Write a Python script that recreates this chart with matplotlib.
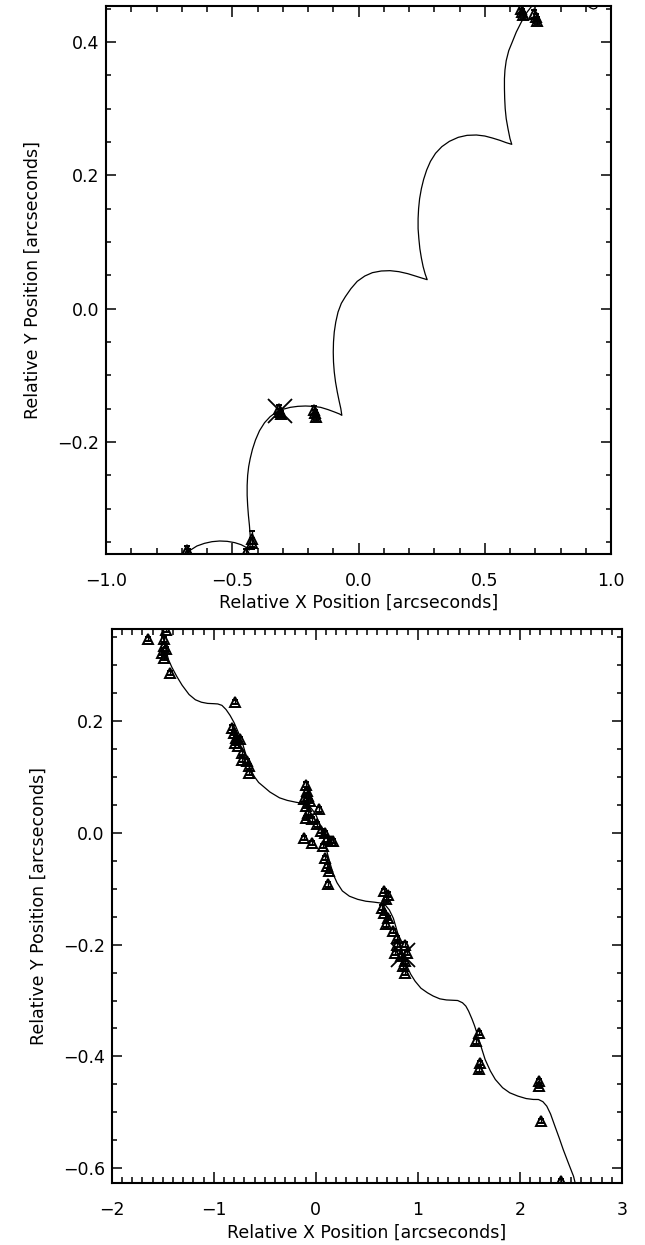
import matplotlib
matplotlib.use("Agg")
import matplotlib.pyplot as plt
from matplotlib.ticker import MultipleLocator

# ---------------- data: top panel ----------------
top_curve_x = [-0.74, -0.70, -0.685, -0.665, -0.64, -0.61, -0.58, -0.55, -0.52, -0.49,
               -0.465, -0.445, -0.432,
               -0.428, -0.429, -0.432, -0.436, -0.439, -0.441, -0.441, -0.439, -0.435,
               -0.429, -0.420, -0.408, -0.392, -0.372, -0.350, -0.325, -0.300, -0.270,
               -0.240, -0.210, -0.180, -0.150, -0.120, -0.095, -0.075, -0.066,
               -0.070, -0.077, -0.084, -0.091, -0.096, -0.099, -0.100, -0.099, -0.096,
               -0.090, -0.081, -0.068, -0.052, -0.030, -0.005, 0.025, 0.055, 0.090,
               0.125, 0.160, 0.195, 0.225, 0.250, 0.272,
               0.264, 0.256, 0.249, 0.243, 0.239, 0.236, 0.236, 0.238, 0.242, 0.249,
               0.258, 0.270, 0.285, 0.305, 0.330, 0.360, 0.395, 0.430, 0.467, 0.500,
               0.530, 0.560, 0.585, 0.607,
               0.600, 0.592, 0.585, 0.581, 0.579, 0.578, 0.578, 0.580, 0.585, 0.595,
               0.609, 0.625, 0.645, 0.668, 0.695, 0.73, 0.77, 0.81, 0.85, 0.88, 0.905,
               0.920, 0.930, 0.940, 0.950, 0.965]
top_curve_y = [-0.390, -0.374, -0.368, -0.362, -0.356, -0.352, -0.3495, -0.3485, -0.349, -0.351,
               -0.354, -0.358, -0.362,
               -0.352, -0.340, -0.325, -0.310, -0.295, -0.280, -0.265, -0.250, -0.237,
               -0.225, -0.211, -0.197, -0.183, -0.171, -0.162, -0.155, -0.151, -0.148,
               -0.1465, -0.146, -0.1465, -0.148, -0.1515, -0.155, -0.158, -0.160,
               -0.150, -0.138, -0.125, -0.110, -0.095, -0.080, -0.065, -0.050, -0.035,
               -0.020, -0.005, 0.008, 0.018, 0.030, 0.041, 0.049, 0.054, 0.0565,
               0.057, 0.0555, 0.0525, 0.049, 0.046, 0.0435,
               0.052, 0.063, 0.076, 0.090, 0.105, 0.120, 0.135, 0.150, 0.165, 0.180,
               0.194, 0.208, 0.221, 0.233, 0.243, 0.251, 0.257, 0.260, 0.2605, 0.259,
               0.256, 0.2525, 0.249, 0.2465,
               0.255, 0.270, 0.285, 0.300, 0.315, 0.330, 0.345, 0.358, 0.372, 0.387,
               0.400, 0.415, 0.430, 0.445, 0.458, 0.468, 0.474, 0.474, 0.469, 0.462, 0.455,
               0.451, 0.4495, 0.4505, 0.455, 0.465]

top_pts_x = [-0.680, -0.676, -0.444, -0.421, -0.423, -0.316, -0.310, -0.306,
             -0.175, -0.172, -0.169, 0.643, 0.647, 0.650, 0.697, 0.703, 0.706]
top_pts_y = [-0.362, -0.367, -0.366, -0.345, -0.352, -0.150, -0.155, -0.158,
             -0.152, -0.157, -0.162, 0.450, 0.445, 0.440, 0.442, 0.437, 0.432]
top_pts_err = [0.006, 0.006, 0.005, 0.012, 0.008, 0.006, 0.005, 0.005,
               0.006, 0.005, 0.005, 0.006, 0.005, 0.005, 0.006, 0.005, 0.005]
top_ref_x = [-0.311]
top_ref_y = [-0.1535]

# ---------------- data: bottom panel ----------------
bot_curve_x = [-1.56, -1.52, -1.49, -1.465, -1.444, -1.41, -1.363, -1.31, -1.242, -1.18,
               -1.121, -1.06, -1.00, -0.96, -0.92, -0.88, -0.84, -0.80, -0.76, -0.72,
               -0.68, -0.64, -0.60, -0.56, -0.517, -0.45, -0.356, -0.28, -0.195, -0.14,
               -0.094, -0.05, -0.02, 0.007, 0.03, 0.06, 0.087, 0.115, 0.148, 0.175,
               0.208, 0.26, 0.329, 0.41, 0.490, 0.57, 0.63, 0.68, 0.72, 0.76, 0.80,
               0.84, 0.87, 0.893, 0.93, 0.973, 1.03, 1.094, 1.15, 1.215, 1.28, 1.336,
               1.39, 1.437, 1.47, 1.497, 1.53, 1.555, 1.578, 1.62, 1.659, 1.71, 1.759,
               1.83, 1.900, 1.98, 2.061, 2.13, 2.182, 2.225, 2.263, 2.30, 2.343, 2.385,
               2.424, 2.475, 2.525, 2.56]
bot_curve_y = [0.410, 0.375, 0.345, 0.325, 0.310, 0.296, 0.280, 0.264, 0.2474, 0.238,
               0.2336, 0.2315, 0.2310, 0.2305, 0.228, 0.2206, 0.210, 0.1968, 0.180, 0.161,
               0.137, 0.1132, 0.100, 0.090, 0.0834, 0.073, 0.0626, 0.058, 0.0547, 0.053,
               0.0506, 0.045, 0.038, 0.0297, 0.018, 0.000, -0.0179, -0.038, -0.0597, -0.076,
               -0.0894, -0.104, -0.1134, -0.119, -0.1224, -0.124, -0.1255, -0.129, -0.138, -0.153, -0.178,
               -0.208, -0.226, -0.2386, -0.253, -0.2655, -0.278, -0.2862, -0.292, -0.297, -0.299, -0.2995,
               -0.300, -0.304, -0.310, -0.319, -0.333, -0.345, -0.3578, -0.383, -0.4056, -0.426, -0.4413,
               -0.456, -0.4651, -0.471, -0.4754, -0.477, -0.4771, -0.481, -0.489, -0.503, -0.525, -0.546,
               -0.5666, -0.591, -0.6144, -0.640]

bot_pts_x = [-1.645, -1.472, -1.484, -1.492, -1.504, -1.492, -1.464, -1.424,
             -0.787, -0.819, -0.799, -0.779, -0.791, -0.759, -0.739, -0.719, -0.719, -0.678, -0.650, -0.658,
             -0.094, -0.082, -0.074, -0.114, -0.054, -0.094, -0.074, -0.094, -0.034, 0.027, 0.007,
             0.047, 0.087, 0.107, 0.148, 0.168, -0.114, -0.034, 0.067, 0.087, 0.107, 0.127, 0.120,
             0.671, 0.712, 0.692, 0.651, 0.671, 0.712, 0.692, 0.752, 0.792, 0.792, 0.772, 0.833,
             0.873, 0.873, 0.853, 0.873, 0.893,
             1.598, 1.570, 1.610, 1.598, 2.190, 2.190, 2.202, 2.404]
bot_pts_y = [0.347, 0.3625, 0.346, 0.334, 0.322, 0.313, 0.328, 0.286,
             0.2337, 0.188, 0.179, 0.170, 0.161, 0.155, 0.167, 0.143, 0.131, 0.128, 0.119, 0.107,
             0.0864, 0.0745, 0.0656, 0.0596, 0.0566, 0.0477, 0.0358, 0.0268, 0.0239, 0.0417, 0.0149,
             0.0030, 0.0, -0.0119, -0.0149, -0.0149, -0.009, -0.0179, -0.0238, -0.0447, -0.0596, -0.0686, -0.0924,
             -0.1044, -0.1104, -0.119, -0.134, -0.143, -0.152, -0.164, -0.176, -0.188, -0.200, -0.215, -0.221,
             -0.200, -0.230, -0.239, -0.251, -0.215,
             -0.358, -0.373, -0.412, -0.423, -0.444, -0.453, -0.516, -0.623]
bot_pts_err = 0.004
bot_ref_x = [0.853]
bot_ref_y = [-0.2177]

top_xticks = [-1.0, -0.5, 0.0, 0.5, 1.0]
top_xlabels = ["\u22121.0", "\u22120.5", "0.0", "0.5", "1.0"]
top_yticks = [-0.2, 0.0, 0.2, 0.4]
top_ylabels = ["\u22120.2", "0.0", "0.2", "0.4"]
bot_xticks = [-2, -1, 0, 1, 2, 3]
bot_xlabels = ["\u22122", "\u22121", "0", "1", "2", "3"]
bot_yticks = [-0.6, -0.4, -0.2, 0.0, 0.2]
bot_ylabels = ["\u22120.6", "\u22120.4", "\u22120.2", "0.0", "0.2"]

xlabel_text = "Relative X Position [arcseconds]"
ylabel_text = "Relative Y Position [arcseconds]"

plt.rcParams['font.family'] = ['DejaVu Sans']

fig = plt.figure(figsize=(6.45, 12.45), dpi=100)
ax1 = fig.add_axes([106/645, 1-554/1245, 505/645, 548/1245])
ax2 = fig.add_axes([111.7/645, 1-1183.3/1245, 510.3/645, 554.3/1245])


def style(ax, xminor, yminor, xt, xl, yt, yl):
    ax.set_xticks(xt)
    ax.set_xticklabels(xl)
    ax.set_yticks(yt)
    ax.set_yticklabels(yl)
    ax.xaxis.set_minor_locator(MultipleLocator(xminor))
    ax.yaxis.set_minor_locator(MultipleLocator(yminor))
    ax.tick_params(which='both', direction='in', top=True, right=True, width=1.1,
                   labelsize=12.5, colors='black')
    ax.tick_params(axis='x', which='major', length=8, pad=13)
    ax.tick_params(axis='x', which='minor', length=4)
    ax.tick_params(axis='y', which='major', length=7.5, pad=5)
    ax.tick_params(axis='y', which='minor', length=3.8)
    for s in ax.spines.values():
        s.set_linewidth(1.5)
    ax.set_xlabel(xlabel_text, fontsize=12.5, labelpad=3)
    ax.set_ylabel(ylabel_text, fontsize=12.5, labelpad=11)


def draw(ax, cx, cy, px, py, perr, rx, ry):
    ax.plot(cx, cy, color='black', lw=0.9, zorder=2)
    ax.errorbar(px, py, yerr=perr, fmt='^', ms=6.5, mfc='none', mec='black', mew=1.4,
                ecolor='black', elinewidth=1.0, capsize=2.5, capthick=1.0, zorder=3)
    ax.plot(rx, ry, marker='x', ms=17, mew=1.3, color='black', ls='none', zorder=4)


draw(ax1, top_curve_x, top_curve_y, top_pts_x, top_pts_y, top_pts_err, top_ref_x, top_ref_y)
ax1.set_xlim(-1.0, 1.0)
ax1.set_ylim(-0.368, 0.454)
style(ax1, 0.1, 0.05, top_xticks, top_xlabels, top_yticks, top_ylabels)

draw(ax2, bot_curve_x, bot_curve_y, bot_pts_x, bot_pts_y, bot_pts_err, bot_ref_x, bot_ref_y)
ax2.set_xlim(-2.0, 3.0)
ax2.set_ylim(-0.627, 0.3646)
style(ax2, 0.1, 0.05, bot_xticks, bot_xlabels, bot_yticks, bot_ylabels)

fig.savefig("out.png", dpi=100)
